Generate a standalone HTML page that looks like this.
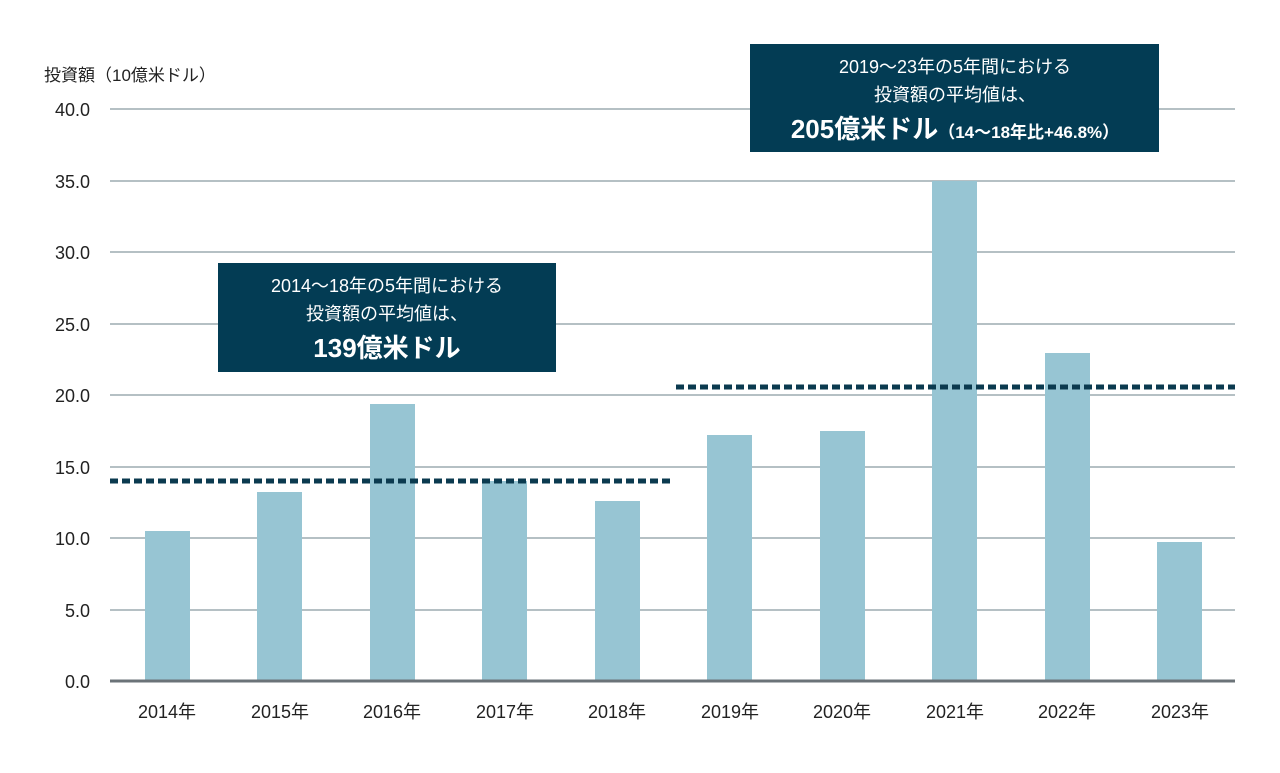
<!DOCTYPE html>
<html><head><meta charset="utf-8"><style>
body{margin:0;background:#fff}
svg text{font-family:"Liberation Sans","Noto Sans CJK JP",sans-serif}
</style></head><body>
<svg width="1280" height="768" viewBox="0 0 1280 768" xmlns="http://www.w3.org/2000/svg">
<rect width="1280" height="768" fill="#fff"/>
<text x="44" y="81" font-size="17" fill="#222">投資額（10億米ドル）</text>
<g stroke="#b5c0c4" stroke-width="2">
<line x1="110" x2="1235" y1="109" y2="109"/><line x1="110" x2="1235" y1="181" y2="181"/>
<line x1="110" x2="1235" y1="252" y2="252"/><line x1="110" x2="1235" y1="324" y2="324"/>
<line x1="110" x2="1235" y1="395" y2="395"/><line x1="110" x2="1235" y1="467" y2="467"/>
<line x1="110" x2="1235" y1="538" y2="538"/><line x1="110" x2="1235" y1="610" y2="610"/>
</g>
<g font-size="18" fill="#222" text-anchor="end">
<text x="90" y="116">40.0</text><text x="90" y="188">35.0</text><text x="90" y="259">30.0</text>
<text x="90" y="331">25.0</text><text x="90" y="402">20.0</text><text x="90" y="474">15.0</text>
<text x="90" y="545">10.0</text><text x="90" y="617">5.0</text><text x="90" y="688">0.0</text>
</g>
<g fill="#97c5d3">
<rect x="145" y="531" width="45" height="150"/>
<rect x="257" y="492" width="45" height="189"/>
<rect x="370" y="404" width="45" height="277"/>
<rect x="482" y="481" width="45" height="200"/>
<rect x="595" y="501" width="45" height="180"/>
<rect x="707" y="435" width="45" height="246"/>
<rect x="820" y="431" width="45" height="250"/>
<rect x="932" y="181" width="45" height="500"/>
<rect x="1045" y="353" width="45" height="328"/>
<rect x="1157" y="542" width="45" height="139"/>
</g>
<line x1="110" x2="1235" y1="681" y2="681" stroke="#6b7378" stroke-width="3"/>
<g font-size="18" fill="#222" text-anchor="middle">
<text x="167" y="718">2014年</text><text x="280" y="718">2015年</text><text x="392" y="718">2016年</text>
<text x="505" y="718">2017年</text><text x="617" y="718">2018年</text><text x="730" y="718">2019年</text>
<text x="842" y="718">2020年</text><text x="955" y="718">2021年</text><text x="1067" y="718">2022年</text>
<text x="1180" y="718">2023年</text>
</g>
<g stroke="#0b3a4f" stroke-width="5" stroke-dasharray="8,4">
<line x1="110" x2="670" y1="481" y2="481"/>
<line x1="676" x2="1235" y1="387" y2="387"/>
</g>
<rect x="218" y="263" width="338" height="109" fill="#033c54"/>
<g fill="#fff" text-anchor="middle">
<text x="387" y="292" font-size="18">2014～18年の5年間における</text>
<text x="387" y="320" font-size="18">投資額の平均値は、</text>
<text x="387" y="357" font-size="26" font-weight="bold">139億米ドル</text>
</g>
<rect x="750" y="44" width="409" height="108" fill="#033c54"/>
<g fill="#fff" text-anchor="middle">
<text x="955" y="73" font-size="18">2019～23年の5年間における</text>
<text x="955" y="101" font-size="18">投資額の平均値は、</text>
<text x="955" y="138" font-weight="bold"><tspan font-size="26">205億米ドル</tspan><tspan font-size="17">（14～18年比+46.8%）</tspan></text>
</g>
</svg>
</body></html>
